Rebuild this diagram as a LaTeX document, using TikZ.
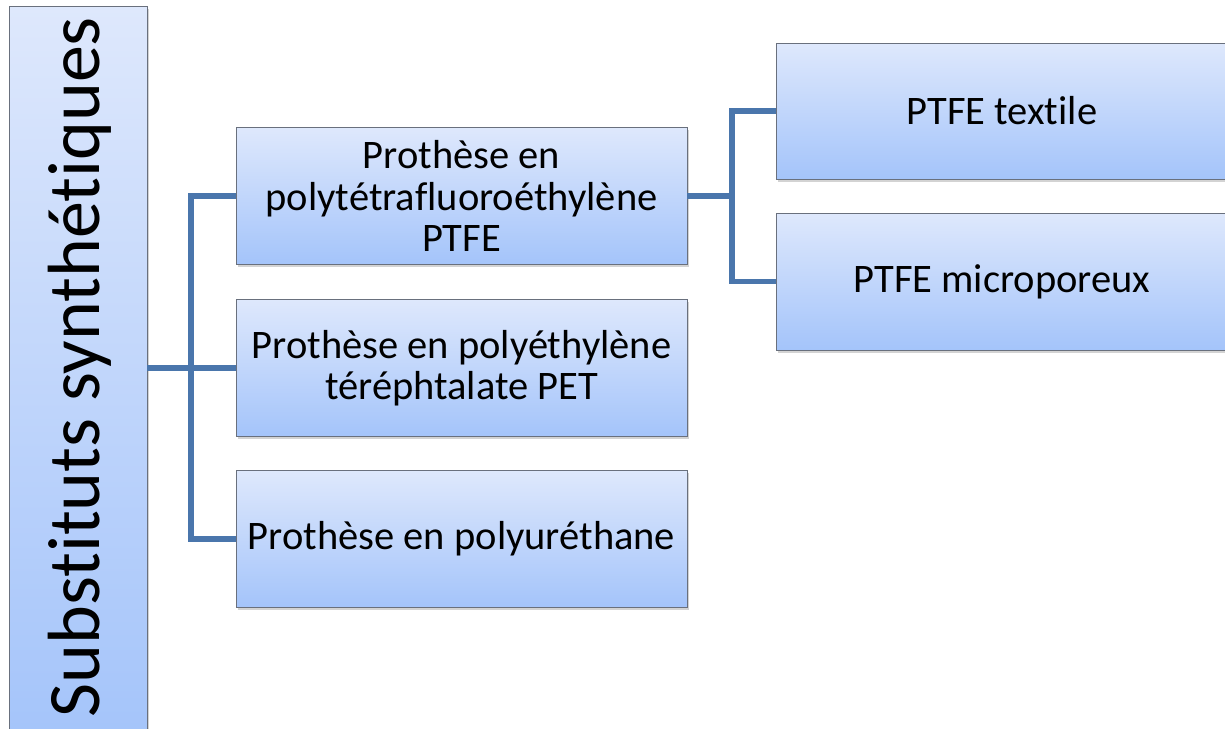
\documentclass[tikz,border=0pt]{standalone}
\usepackage{fontspec}
\setmainfont{Carlito}[Ligatures=NoCommon]
\usetikzlibrary{shadows}
\definecolor{topc}{RGB}{222,232,252}
\definecolor{botc}{RGB}{164,196,250}
\definecolor{edgec}{RGB}{105,112,125}
\definecolor{linec}{RGB}{74,118,172}
\tikzset{
  boxstyle/.style={rectangle, draw=edgec, line width=0.8pt, top color=topc, bottom color=botc,
    drop shadow={shadow xshift=1.5pt, shadow yshift=-2.5pt, opacity=0.35},
    align=center, inner sep=2pt, font=\fontsize{40.5}{41.5}\selectfont},
  conn/.style={draw=linec, line width=5.5pt, line join=miter}
}
\begin{document}
\begin{tikzpicture}[x=1pt,y=-1pt]
\useasboundingbox (0,0) rectangle (1225,728);
\clip (0,0) rectangle (1225,728);
\node[boxstyle, minimum width=138pt, minimum height=736pt] (L) at (78,374) {};
\node[rotate=90, font=\fontsize{74}{80}\selectfont] (Lt) at (80,367) {Substituts synthétiques};
\node[boxstyle, minimum width=451pt, minimum height=137pt] (m1) at (461.5,196) {Prothèse en\\polytétrafluoroéthylène\\PTFE};
\node[boxstyle, minimum width=451pt, minimum height=137pt] (m2) at (461.5,368) {Prothèse en polyéthylène\\téréphtalate PET};
\node[boxstyle, minimum width=451pt, minimum height=137pt] (m3) at (461.5,539) {Prothèse en polyuréthane};
\node[boxstyle, minimum width=452pt, minimum height=136pt] (r1) at (1002,111) {PTFE textile};
\node[boxstyle, minimum width=452pt, minimum height=137pt] (r2) at (1002,281.5) {PTFE microporeux};
\coordinate (j1) at (191,368);
\coordinate (j2) at (732,197);
\draw[conn] (L.east |- m2.west) -- (m2.west);
\draw[conn] (m1.west) -- (m1.west -| j1) -- (m3.west -| j1) -- (m3.west);
\draw[conn] (m1.east) -- (m1.east -| j2);
\draw[conn] (r1.west) -- (r1.west -| j2) -- (r2.west -| j2) -- (r2.west);
\end{tikzpicture}
\end{document}
